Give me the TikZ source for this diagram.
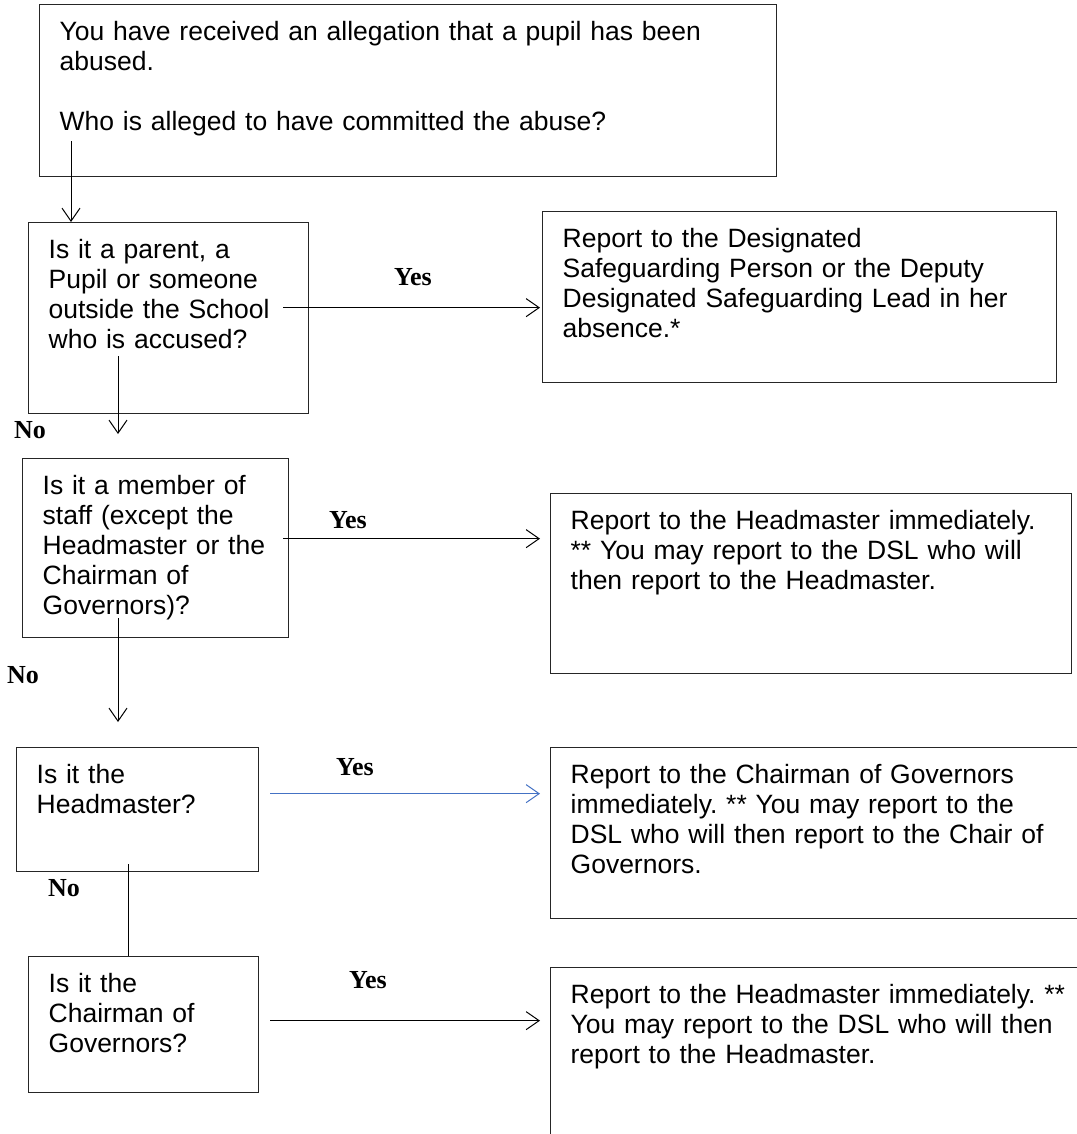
\documentclass[tikz,border=0pt]{standalone}
\usepackage{fontspec}
\setmainfont{Liberation Sans}
\newfontfamily\yesnofont{Liberation Serif}
\usepackage{xcolor}
\usepackage{tikz}
\definecolor{linkblue}{RGB}{68,114,196}
\usetikzlibrary{positioning,calc,arrows.meta}

\tikzset{
    box/.style={draw=black!85, line width=1.3pt, anchor=north west, align=left,
        inner xsep=20pt, inner ysep=0pt, text height=36pt,
        font=\fontsize{26.5}{30}\selectfont\frenchspacing},
    arr/.style={line width=1pt, -{Straight Barb[length=13pt,width=18pt]}},
    ans/.style={font=\yesnofont\bfseries\fontsize{26}{30}\selectfont, inner sep=0pt},
}

\begin{document}
\begin{tikzpicture}[x=1pt,y=-1pt]
    \useasboundingbox (0,0) rectangle (1076,1134);

    % question boxes
    \node[box, text width=697pt, text depth=136pt] (top) at (39,4) {You have received an allegation that a pupil has been\\abused.\\[30pt]Who is alleged to have committed the abuse?};
    \node[box, text width=240pt, text depth=155pt] (q1) at (28,222) {Is it a parent, a\\Pupil or someone\\outside the School\\who is accused?};
    \node[box, text width=226pt, text depth=143pt] (q2) at (22,458) {Is it a member of\\staff (except the\\Headmaster or the\\Chairman of\\Governors)?};
    \node[box, text width=202pt, text depth=88pt] (q3) at (16,747) {Is it the\\Headmaster?};
    \node[box, text width=190pt, text depth=100pt] (q4) at (28,956) {Is it the\\Chairman of\\Governors?};

    % report boxes
    \node[box, text width=474pt, text depth=135pt] (r1) at (542,211) {Report to the Designated\\Safeguarding Person or the Deputy\\Designated Safeguarding Lead in her\\absence.*};
    \node[box, text width=481pt, text depth=144pt] (r2) at (550,493) {Report to the Headmaster immediately.\\{}** You may report to the DSL who will\\then report to the Headmaster.};
    \node[box, text width=500pt, text depth=135pt] (r3) at (550,747) {Report to the Chairman of Governors\\immediately. ** You may report to the\\DSL who will then report to the Chair of\\Governors.};
    \node[box, text width=500pt, text depth=200pt] (r4) at (550,967) {Report to the Headmaster immediately. **\\You may report to the DSL who will then\\report to the Headmaster.};

    % yes / no
    \node[ans] (yes1) at (413,277) {Yes};
    \node[ans] (yes2) at (348,520) {Yes};
    \node[ans] (yes3) at (355,767) {Yes};
    \node[ans] (yes4) at (368,980) {Yes};
    \node[ans] (no1) at (30,430) {No};
    \node[ans] (no2) at (23,675) {No};
    \node[ans] (no3) at (64,888) {No};

    % down the left side
    \draw[arr] ([xshift=32pt,yshift=36pt]top.south west) coordinate (a1) -- (a1 |- q1.north);
    \draw[arr, shorten >=24pt] ([xshift=90pt,yshift=58pt]q1.south west) coordinate (a2) -- (a2 |- q2.north);
    \draw[arr, shorten >=25pt] ([xshift=96pt,yshift=20pt]q2.south west) coordinate (a3) -- (a3 |- q3.north);
    \draw[line width=1pt] ([xshift=112pt,yshift=8pt]q3.south west) coordinate (a4) -- (a4 |- q4.north);

    % across to the reports
    \draw[arr, shorten >=2pt] ([xshift=-26pt,yshift=10.5pt]q1.east) coordinate (b1) -- (b1 -| r1.west);
    \draw[arr, shorten >=10pt] ([xshift=-6pt,yshift=9.5pt]q2.east) coordinate (b2) -- (b2 -| r2.west);
    \draw[arr, linkblue, shorten >=10pt] ([xshift=11pt,yshift=16pt]q3.east) coordinate (b3) -- (b3 -| r3.west);
    \draw[arr, shorten >=10pt] ([xshift=11pt,yshift=4pt]q4.east) coordinate (b4) -- (b4 -| r4.west);
\end{tikzpicture}
\end{document}
